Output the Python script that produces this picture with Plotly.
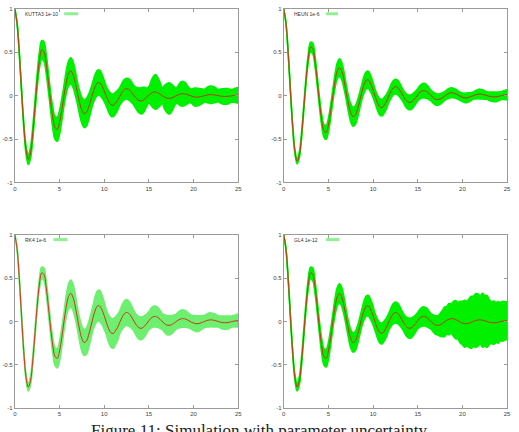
import plotly.graph_objects as go

# ---------------- data ----------------
T_STEP = 0.25
N_PTS = 101
t = [i * T_STEP for i in range(N_PTS)]

mean_kutta3 = [1.000,0.835,0.489,0.061,-0.341,-0.624,-0.733,-0.660,-0.438,-0.134,
0.172,0.409,0.527,0.510,0.374,0.164,-0.065,-0.257,-0.370,-0.386,
-0.309,-0.166,0.001,0.153,0.254,0.286,0.247,0.154,0.034,-0.083,
-0.169,-0.208,-0.193,-0.135,-0.050,0.038,0.109,0.149,0.148,0.111,
0.055,-0.010,-0.067,-0.104,-0.111,-0.087,-0.053,-0.006,0.038,0.070,
0.081,0.073,0.048,0.014,-0.020,-0.046,-0.059,-0.056,-0.041,-0.018,
0.008,0.029,0.041,0.043,0.034,0.018,0.000,-0.017,-0.028,-0.032,
-0.027,-0.017,-0.003,0.009,0.019,0.023,0.021,0.015,0.005,-0.004,
-0.012,-0.017,-0.016,-0.012,-0.006,0.001,0.008,0.012,0.012,0.010,
0.006,0.001,-0.004,-0.008,-0.009,-0.008,-0.005,-0.002,0.002,0.005,
0.006]

mean_common = [1.000,0.839,0.494,0.062,-0.348,-0.640,-0.756,-0.683,-0.456,-0.141,
0.181,0.432,0.560,0.544,0.402,0.176,-0.071,-0.280,-0.405,-0.424,
-0.341,-0.185,0.002,0.172,0.287,0.324,0.282,0.177,0.039,-0.096,
-0.197,-0.242,-0.227,-0.159,-0.060,0.045,0.131,0.179,0.179,0.134,
0.067,-0.013,-0.083,-0.129,-0.138,-0.109,-0.067,-0.007,0.049,0.089,
0.104,0.094,0.062,0.019,-0.026,-0.060,-0.077,-0.075,-0.055,-0.024,
0.010,0.039,0.056,0.058,0.047,0.025,-0.001,-0.024,-0.040,-0.045,
-0.039,-0.024,-0.005,0.014,0.027,0.034,0.031,0.022,0.008,-0.007,
-0.018,-0.025,-0.025,-0.018,-0.009,0.002,0.012,0.018,0.019,0.015,
0.009,0.001,-0.007,-0.012,-0.014,-0.013,-0.009,-0.002,0.004,0.008,
0.011]

err_kutta3 = [0.003,0.005,0.008,0.016,0.035,0.048,0.060,0.067,0.071,0.071,
0.079,0.094,0.107,0.112,0.111,0.106,0.105,0.121,0.133,0.140,
0.137,0.128,0.116,0.132,0.143,0.150,0.149,0.140,0.128,0.136,
0.150,0.159,0.159,0.148,0.133,0.128,0.140,0.145,0.145,0.136,
0.123,0.113,0.124,0.130,0.130,0.124,0.114,0.101,0.109,0.116,
0.120,0.123,0.121,0.113,0.120,0.137,0.146,0.152,0.137,0.105,
0.095,0.140,0.181,0.200,0.175,0.135,0.090,0.135,0.166,0.180,
0.164,0.128,0.090,0.101,0.132,0.143,0.134,0.112,0.085,0.081,
0.098,0.104,0.100,0.093,0.082,0.073,0.087,0.097,0.100,0.093,
0.084,0.071,0.080,0.088,0.090,0.089,0.083,0.074,0.076,0.085,
0.089]

err_heun = [0.005,0.005,0.009,0.012,0.018,0.024,0.030,0.034,0.035,0.035,
0.039,0.047,0.057,0.061,0.061,0.057,0.057,0.066,0.074,0.080,
0.079,0.076,0.070,0.082,0.093,0.100,0.100,0.095,0.087,0.093,
0.103,0.110,0.109,0.102,0.091,0.088,0.095,0.099,0.100,0.095,
0.086,0.079,0.088,0.094,0.095,0.090,0.083,0.073,0.078,0.084,
0.085,0.084,0.079,0.071,0.073,0.080,0.084,0.084,0.081,0.074,
0.071,0.078,0.083,0.085,0.079,0.070,0.060,0.065,0.066,0.065,
0.061,0.056,0.050,0.052,0.055,0.056,0.055,0.052,0.048,0.048,
0.049,0.054,0.055,0.051,0.045,0.041,0.049,0.054,0.056,0.053,
0.049,0.043,0.048,0.053,0.056,0.055,0.051,0.046,0.047,0.053,
0.056]

err_rk4 = [0.010,0.010,0.012,0.015,0.027,0.036,0.045,0.048,0.049,0.048,
0.052,0.060,0.067,0.072,0.074,0.074,0.076,0.089,0.102,0.110,
0.113,0.111,0.106,0.125,0.143,0.155,0.151,0.140,0.126,0.131,
0.144,0.150,0.151,0.148,0.139,0.141,0.160,0.175,0.180,0.170,
0.156,0.143,0.157,0.168,0.170,0.161,0.148,0.130,0.139,0.147,
0.150,0.145,0.134,0.118,0.118,0.127,0.131,0.129,0.122,0.110,
0.104,0.113,0.120,0.120,0.114,0.105,0.092,0.101,0.109,0.110,
0.106,0.098,0.087,0.091,0.097,0.100,0.098,0.091,0.082,0.080,
0.087,0.090,0.090,0.084,0.076,0.070,0.076,0.080,0.080,0.077,
0.072,0.064,0.069,0.075,0.077,0.076,0.071,0.064,0.065,0.071,
0.075]

err_gl4 = [0.003,0.004,0.006,0.016,0.025,0.035,0.045,0.047,0.048,0.047,
0.051,0.060,0.067,0.072,0.073,0.071,0.072,0.084,0.094,0.100,
0.099,0.092,0.084,0.096,0.105,0.110,0.108,0.101,0.091,0.096,
0.105,0.110,0.111,0.106,0.098,0.097,0.109,0.117,0.120,0.115,
0.106,0.098,0.109,0.117,0.120,0.116,0.109,0.097,0.106,0.115,
0.120,0.117,0.110,0.099,0.100,0.109,0.114,0.115,0.108,0.098,
0.093,0.103,0.109,0.110,0.106,0.098,0.088,0.099,0.107,0.110,
0.13,0.15,0.17,0.16,0.18,0.17,0.20,0.22,0.21,0.24,
0.25,0.27,0.26,0.28,0.30,0.29,0.31,0.30,0.28,0.31,
0.29,0.30,0.26,0.24,0.25,0.23,0.24,0.22,0.23,0.22,
0.22]

labels = ["KUTTA3 1e-10", "HEUN 1e-6", "RK4 1e-6", "GL4 1e-12"]
x_ticks = [0, 5, 10, 15, 20, 25]
y_ticks = [-1, -0.5, 0, 0.5, 1]
y_tick_text = ["-1", "-0.5", "0", "0.5", "1"]
caption = "Figure 11: Simulation with parameter uncertainty"

# ---------------- figure ----------------
W, H = 519, 432
def xd(a, b): return [a / W, b / W]
def yd(top, bot): return [1 - bot / H, 1 - top / H]

panels = [
    dict(label=labels[0], mean=mean_kutta3, err=err_kutta3, band="#00f000",
         xdom=xd(13, 239), ydom=yd(6, 182), sw=(0.221, 0.283)),
    dict(label=labels[1], mean=mean_common, err=err_heun, band="#00f000",
         xdom=xd(285, 511), ydom=yd(6, 182), sw=(0.19, 0.243)),
    dict(label=labels[2], mean=mean_common, err=err_rk4, band="#6fef6f",
         xdom=xd(13, 239), ydom=yd(235, 411), sw=(0.173, 0.235)),
    dict(label=labels[3], mean=mean_common, err=err_gl4, band="#00f000",
         xdom=xd(285, 511), ydom=yd(235, 411), sw=(0.19, 0.248)),
]

fig = go.Figure()
axis_common = dict(showline=True, linecolor="#9a9a9a", linewidth=1, mirror="allticks",
                   ticks="inside", ticklen=3, tickcolor="#9a9a9a", showgrid=False,
                   zeroline=False, tickfont=dict(size=6, color="#444", family="Liberation Sans"))

annotations = []
shapes = []
for i, p in enumerate(panels):
    sfx = "" if i == 0 else str(i + 1)
    xa, ya = "x" + sfx, "y" + sfx
    lower = [m - e for m, e in zip(p["mean"], p["err"])]
    upper = [m + e for m, e in zip(p["mean"], p["err"])]
    fig.add_trace(go.Scatter(x=t, y=lower, mode="lines",
                             line=dict(width=1.6, color=p["band"], shape="spline"),
                             xaxis=xa, yaxis=ya, showlegend=False, hoverinfo="skip"))
    fig.add_trace(go.Scatter(x=t, y=upper, mode="lines",
                             line=dict(width=1.6, color=p["band"], shape="spline"),
                             fill="tonexty", fillcolor=p["band"],
                             xaxis=xa, yaxis=ya, showlegend=False, hoverinfo="skip"))
    fig.add_trace(go.Scatter(x=t, y=p["mean"], mode="lines",
                             line=dict(color="rgba(205,40,20,0.9)", width=1, shape="spline"),
                             xaxis=xa, yaxis=ya, showlegend=False))
    fig.layout["xaxis" + sfx] = dict(domain=p["xdom"], anchor=ya, range=[0, 25],
                                     tickvals=x_ticks, **axis_common)
    fig.layout["yaxis" + sfx] = dict(domain=p["ydom"], anchor=xa, range=[-1, 1],
                                     tickvals=y_ticks, ticktext=y_tick_text, **axis_common)
    annotations.append(dict(text=p["label"], xref=xa + " domain", yref=ya + " domain",
                            x=0.035, y=0.972, xanchor="left", yanchor="middle", showarrow=False,
                            font=dict(size=5, color="#333", family="Liberation Sans")))
    shapes.append(dict(type="line", xref=xa + " domain", yref=ya + " domain",
                       x0=p["sw"][0], x1=p["sw"][1], y0=0.972, y1=0.972,
                       line=dict(color="#8ef08e", width=3)))

annotations.append(dict(text=caption, xref="paper", yref="paper", x=0.5, y=0,
                        xanchor="center", yanchor="middle", yshift=-1, showarrow=False,
                        font=dict(size=17, color="#222", family="Liberation Serif")))

fig.update_layout(width=W, height=H, margin=dict(l=0, r=0, t=0, b=0),
                  paper_bgcolor="white", plot_bgcolor="white",
                  annotations=annotations, shapes=shapes, showlegend=False)

fig.write_html("out.html")
